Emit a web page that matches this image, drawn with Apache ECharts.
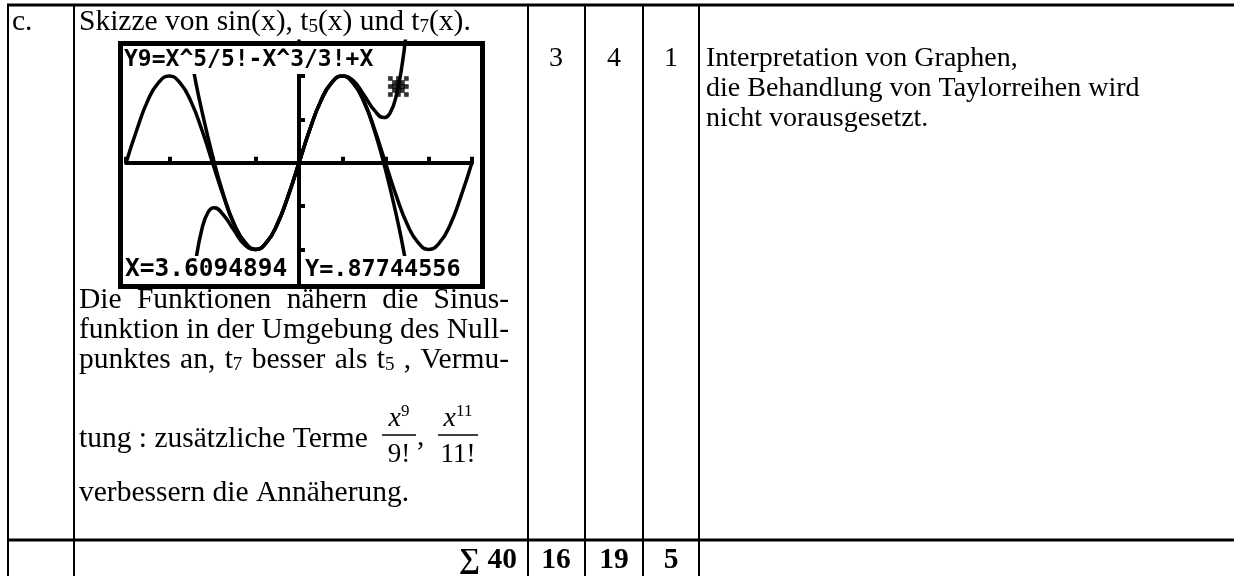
<!DOCTYPE html>
<html>
<head>
<meta charset="utf-8">
<script src="https://cdn.jsdelivr.net/npm/echarts@6/dist/echarts.min.js"></script>
<style>
html, body { margin: 0; padding: 0; background: #fff; }
#chart { width: 1234px; height: 576px; }
</style>
</head>
<body>
<div id="chart"></div>
<script>
// points (x in radians)
let sinX = [-6.28, -5.89, -5.50, -5.11, -4.71, -4.32, -3.93, -3.53, -3.14, -2.75, -2.36, -1.96, -1.57, -1.18, -0.79, -0.39, 0,
            0.39, 0.79, 1.18, 1.57, 1.96, 2.36, 2.75, 3.14, 3.53, 3.93, 4.32, 4.71, 5.11, 5.50, 5.89, 6.28];
let sinY = [0, 0.38, 0.71, 0.92, 1, 0.92, 0.71, 0.38, 0, -0.38, -0.71, -0.92, -1, -0.92, -0.71, -0.38, 0,
            0.38, 0.71, 0.92, 1, 0.92, 0.71, 0.38, 0, -0.38, -0.71, -0.92, -1, -0.92, -0.71, -0.38, 0];
let t5X = [-3.9, -3.75, -3.53, -3.3, -3.08, -2.75, -2.36, -1.96, -1.57, -1.18, -0.79, -0.39, 0,
           0.39, 0.79, 1.18, 1.57, 1.96, 2.36, 2.75, 3.08, 3.3, 3.53, 3.75, 3.9];
let t5Y = [-1.53, -1.14, -0.77, -0.57, -0.52, -0.60, -0.78, -0.95, -1.00, -0.92, -0.71, -0.38, 0,
           0.38, 0.71, 0.92, 1.00, 0.95, 0.78, 0.60, 0.52, 0.57, 0.77, 1.14, 1.53];
let t7X = [-3.93, -3.75, -3.53, -3.14, -2.75, -2.36, -1.96, -1.57, -1.18, -0.79, -0.39, 0,
           0.39, 0.79, 1.18, 1.57, 1.96, 2.36, 2.75, 3.14, 3.53, 3.75, 3.93];
let t7Y = [1.25, 0.93, 0.60, 0.08, -0.36, -0.70, -0.92, -1.00, -0.92, -0.71, -0.38, 0,
           0.38, 0.71, 0.92, 1.00, 0.92, 0.70, 0.36, -0.08, -0.60, -0.93, -1.25];
let cursorX = [3.6094894];
let cursorY = [0.87744556];
let yTicks = [-1, -0.5, 0.5, 1];

let screenTop = 'Y9=X^5/5!-X^3/3!+X';
let screenX = 'X=3.6094894';
let screenY = 'Y=.87744556';

let rowLabel = 'c.';
let headLine = 'Skizze von sin(x), t{s|5}(x) und t{s|7}(x).';
let descLines = ['Die Funktionen nähern die Sinus-', 'funktion in der Umgebung des Null-',
                 'punktes an, t{s|7} besser als t{s|5} , Vermu-'];
let termLine = 'tung : zusätzliche Terme';
let lastLine = 'verbessern die Annäherung.';
let fracNum = ['x{sup|9}', 'x{sup|11}'];
let fracDen = ['9!', '11!'];
let points = ['3', '4', '1'];
let notes = ['Interpretation von Graphen,', 'die Behandlung von Taylorreihen wird', 'nicht vorausgesetzt.'];
let sumLabel = '\u2211 40';
let sums = ['16', '19', '5'];

function pairs(xs, ys) {
    return xs.map(function (x, i) { return [x, ys[i]]; });
}

let serif = 'Liberation Serif';
let fs = 29.5;
let subSize = 19;
let rich = {
    s: {fontFamily: serif, fontSize: subSize, lineHeight: 14, verticalAlign: 'bottom'},
    sup: {fontFamily: serif, fontSize: 17, lineHeight: 12, verticalAlign: 'top'},
    i: {fontFamily: serif, fontSize: 28, fontStyle: 'italic', lineHeight: 30}
};

function label(x, base, text, align, bold, size) {
    size = size || fs;
    return {
        type: 'text', x: x, y: base - size * 0.34, z: 100,
        style: {
            text: text, fontFamily: serif, fontSize: size, fontWeight: bold ? 'bold' : 'normal',
            fill: '#000', align: align || 'left', verticalAlign: 'middle', lineHeight: 30, rich: rich
        }
    };
}

// word widths, so that the block-justified lines can be spread like in the document
let measureCtx = document.createElement('canvas').getContext('2d');
function wordWidth(word) {
    let w = 0;
    word.split(/(\{s\|[^}]*\})/).forEach(function (part) {
        if (!part) return;
        let m = part.match(/^\{s\|([^}]*)\}$/);
        measureCtx.font = (m ? subSize : fs) + 'px "' + serif + '"';
        w += measureCtx.measureText(m ? m[1] : part).width;
    });
    return w;
}
function justified(x0, x1, base, text) {
    let words = text.split(' ');
    let widths = words.map(wordWidth);
    let total = widths.reduce(function (a, b) { return a + b; }, 0);
    let gap = (x1 - x0 - total) / (words.length - 1);
    let x = x0;
    let out = [];
    words.forEach(function (w, i) {
        out.push(label(x, base, w));
        x += widths[i] + gap;
    });
    return out;
}

function hline(x1, x2, y, w) {
    return {type: 'line', z: 100, shape: {x1: x1, y1: y, x2: x2, y2: y}, style: {stroke: '#000', lineWidth: w}};
}
function vline(x, y1, y2, w) {
    return {type: 'line', z: 100, shape: {x1: x, y1: y1, x2: x, y2: y2}, style: {stroke: '#000', lineWidth: w}};
}

function lcdText(x, y, text, size) {
    return {
        type: 'text', x: x, y: y, z: 90,
        style: {
            text: text, fontFamily: 'DejaVu Sans Mono', fontSize: size, fontWeight: 'bold', fill: '#000',
            align: 'left', verticalAlign: 'top', lineHeight: 24, backgroundColor: '#fff', padding: [2, 3, 2, 1]
        }
    };
}

// the calculator's trace cursor, built from a 5x5 pixel pattern
let cursorPattern = ['10101', '01110', '11111', '01110', '10101'];
let cursorPath = 'path://';
cursorPattern.forEach(function (row, r) {
    for (let c = 0; c < row.length; c++) {
        if (row[c] === '1') cursorPath += 'M' + c + ' ' + r + 'h1v1h-1Z';
    }
});

let graphics = [];
// table grid
graphics.push(hline(7, 1234, 5, 3));
graphics.push(hline(7, 1234, 540, 3));
[8, 74, 528, 585, 643, 699].forEach(function (x) { graphics.push(vline(x, 4, 576, 2)); });

// first row
graphics.push(label(12, 32, rowLabel));
graphics.push(label(79, 32, headLine));
let descBase = [310, 340, 370];
descLines.forEach(function (t, i) {
    graphics = graphics.concat(justified(79, 509, descBase[i], t));
});
graphics.push(label(79, 449, termLine));
graphics.push(label(79, 503, lastLine));
// fractions x^9/9!, x^11/11!
let fracCenter = [399, 458];
let fracHalf = [17, 20];
fracNum.forEach(function (t, i) {
    graphics.push(label(fracCenter[i], 428, '{i|' + t.replace('{sup|', '}{sup|'), 'center', false, 28));
    graphics.push(hline(fracCenter[i] - fracHalf[i], fracCenter[i] + fracHalf[i], 435, 1.5));
    graphics.push(label(fracCenter[i], 464, fracDen[i], 'center', false, 27));
});
graphics.push(label(417, 447, ','));
let colCenter = [556, 614, 671];
points.forEach(function (p, i) { graphics.push(label(colCenter[i], 68, p, 'center', false, 28)); });
notes.forEach(function (t, i) { graphics.push(label(706, 68 + i * 30, t, 'left', false, 28)); });

// sum row
graphics.push(label(517, 570, sumLabel, 'right', true));
sums.forEach(function (s, i) { graphics.push(label(colCenter[i], 570, s, 'center', true)); });

// calculator screen texts and frame
graphics.push(lcdText(123, 46, screenTop, 23));
graphics.push(lcdText(124, 256, screenX, 24.5));
graphics.push(lcdText(304, 256, screenY, 23.5));
graphics.push({
    type: 'rect', z: 110,
    shape: {x: 120.5, y: 43.5, width: 362, height: 243},
    style: {fill: null, stroke: '#000', lineWidth: 5}
});

let lineStyle = {color: '#000', width: 3.5};
let option = {
    animation: false,
    backgroundColor: '#fff',
    grid: {left: 126, top: 41.3, width: 346, height: 242.8, show: false},
    xAxis: {
        type: 'value', min: -2 * Math.PI, max: 2 * Math.PI, interval: Math.PI / 2,
        axisLine: {onZero: true, lineStyle: {color: '#000', width: 4}},
        axisTick: {inside: true, length: 6, lineStyle: {color: '#000', width: 4}},
        axisLabel: {show: false},
        splitLine: {show: false}
    },
    yAxis: {
        type: 'value', min: -1.4, max: 1.4,
        axisLine: {onZero: true, lineStyle: {color: '#000', width: 4}},
        axisTick: {inside: true, length: 6, customValues: yTicks, lineStyle: {color: '#000', width: 4}},
        axisLabel: {show: false},
        splitLine: {show: false}
    },
    series: [
        {name: 'sin', type: 'line', data: pairs(sinX, sinY), smooth: true, showSymbol: false, lineStyle: lineStyle},
        {name: 't5', type: 'line', data: pairs(t5X, t5Y), smooth: true, showSymbol: false, lineStyle: lineStyle},
        {name: 't7', type: 'line', data: pairs(t7X, t7Y), smooth: true, showSymbol: false, lineStyle: lineStyle},
        {name: 'cursor', type: 'scatter', data: pairs(cursorX, cursorY), symbol: cursorPath, symbolSize: 20,
            itemStyle: {color: '#000', borderColor: '#000', borderWidth: 0.6}, z: 5}
    ],
    graphic: graphics
};

let myChart = echarts.init(document.getElementById('chart'));
myChart.setOption(option);
</script>
</body>
</html>
